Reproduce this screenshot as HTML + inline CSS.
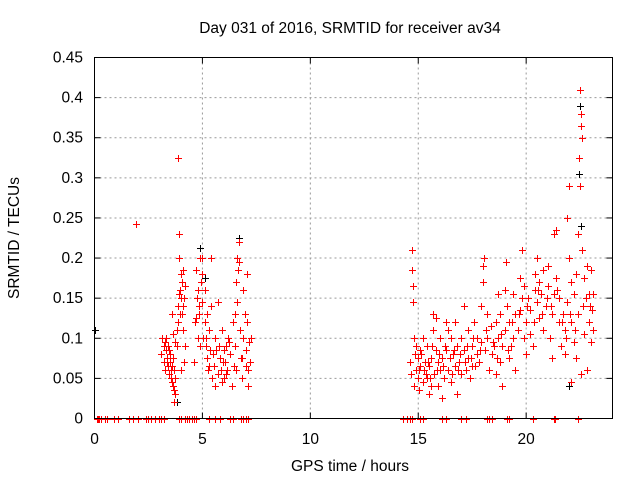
<!DOCTYPE html>
<html><head><meta charset="utf-8"><style>
body{margin:0;background:#fff}
svg text{font-family:"Liberation Sans",sans-serif;font-size:15.5px;fill:#000}
</style></head><body>
<svg id="chart" width="640" height="480" xmlns="http://www.w3.org/2000/svg">
<rect width="640" height="480" fill="#fff"/>
<text x="350" y="33" text-anchor="middle">Day 031 of 2016, SRMTID for receiver av34</text>
<text x="350" y="471" text-anchor="middle">GPS time / hours</text>
<text transform="translate(19,238) rotate(-90)" text-anchor="middle">SRMTID / TECUs</text>
<g id="grid"></g>
<g id="ticks"></g>
<g id="marks"></g>
<rect x="94.5" y="57.5" width="518" height="361" fill="none" stroke="#000"/>
</svg>
<script>
const xTicks=[0,5,10,15,20];
const yTicks=[0,0.05,0.1,0.15,0.2,0.25,0.3,0.35,0.4,0.45];
const yTickLabels=["0","0.05","0.1","0.15","0.2","0.25","0.3","0.35","0.4","0.45"];
const redT=[1.9,3.1,3.15,3.2,3.2,3.25,3.3,3.3,3.35,3.4,3.4,3.45,3.5,3.5,3.55,3.6,3.6,3.65,3.7,3.7,3.75,3.8,3.8,3.85,3.85,3.9,3.9,3.95,3.95,4.0,4.0,4.05,4.05,4.1,4.1,4.15,4.2,4.0,3.9,3.75,3.6,3.65,3.7,3.25,3.35,3.45,3.55,3.65,3.75,3.85,4.15,4.2,4.1,
4.6,4.65,4.7,4.75,4.8,4.8,4.85,4.9,4.9,4.95,5.0,5.0,5.05,5.1,5.1,5.15,5.2,5.2,5.25,5.3,5.35,5.4,5.4,5.45,4.7,4.85,5.0,5.15,5.3,
5.5,5.55,5.6,5.6,5.7,5.7,5.75,5.8,5.85,5.9,5.9,6.0,6.0,6.05,6.1,6.1,6.15,6.2,6.3,6.35,6.4,6.45,6.5,6.5,6.55,6.6,6.6,6.65,6.7,6.7,6.75,6.8,6.85,6.9,6.9,6.95,7.0,7.0,7.05,7.1,7.1,7.15,7.2,7.25,5.65,5.95,6.25,6.55,6.85,7.05,
14.6,14.65,14.7,14.7,14.75,14.75,14.8,14.8,14.85,14.9,14.9,15.0,15.0,15.05,15.1,15.1,15.2,15.2,15.25,15.3,15.4,15.4,15.5,15.5,15.6,15.6,15.7,15.7,15.75,15.8,15.8,15.9,15.9,16.0,16.0,16.1,16.1,16.2,16.3,16.3,16.4,16.4,16.5,16.5,16.6,16.7,16.7,16.8,16.8,16.9,17.0,17.0,17.1,17.1,17.2,17.3,17.3,17.4,17.5,17.5,17.6,17.7,17.7,17.8,17.9,17.9,18.0,18.0,18.05,18.1,18.2,18.2,18.3,18.35,18.4,18.5,18.6,18.6,18.7,18.7,18.8,18.8,18.9,18.9,19.0,19.0,19.05,19.1,19.2,19.2,19.3,19.4,19.4,19.5,19.5,19.6,19.7,19.7,19.8,19.8,19.9,19.9,20.0,20.0,20.1,20.2,20.2,20.3,20.4,20.4,20.5,20.5,20.6,20.6,20.7,20.8,20.8,20.9,21.0,21.0,21.1,21.2,21.2,21.3,21.3,21.4,21.4,21.5,21.5,21.6,21.7,21.8,21.8,21.9,21.9,22.0,22.0,22.1,22.1,22.2,22.2,22.3,22.3,22.4,22.4,22.45,22.5,22.5,22.55,22.55,22.6,22.6,22.65,22.7,22.7,22.8,22.8,22.9,22.9,23.0,23.0,23.05,23.1,23.1,22.55,22.1,
15.05,15.15,15.35,15.45,15.55,15.65,15.85,15.95,16.15,16.25,16.45,16.55,16.65,16.85,16.95,17.15,17.25,17.45,17.55,17.65,17.85,18.15,18.45,18.65,18.85,19.15,19.35,19.65,20.05,20.35,20.55,20.75,20.95,21.15,21.45,21.65,21.85,22.05,22.25,22.75,22.95];
const redV=[0.242,0.08,0.1,0.07,0.09,0.06,0.085,0.1,0.075,0.065,0.09,0.055,0.08,0.07,0.05,0.045,0.065,0.04,0.035,0.06,0.03,0.11,0.09,0.325,0.14,0.2,0.155,0.16,0.13,0.15,0.18,0.17,0.13,0.185,0.11,0.07,0.09,0.06,0.23,0.095,0.13,0.105,0.02,0.095,0.07,0.085,0.06,0.075,0.05,0.12,0.15,0.165,0.14,
0.07,0.12,0.185,0.15,0.16,0.1,0.13,0.2,0.09,0.17,0.2,0.145,0.1,0.12,0.16,0.09,0.13,0.075,0.06,0.11,0.085,0.2,0.14,0.05,0.125,0.14,0.18,0.1,0.065,
0.08,0.065,0.1,0.04,0.145,0.055,0.09,0.075,0.06,0.11,0.045,0.085,0.05,0.07,0.09,0.055,0.06,0.1,0.08,0.04,0.12,0.065,0.09,0.13,0.17,0.2,0.145,0.185,0.195,0.22,0.11,0.075,0.05,0.1,0.16,0.13,0.085,0.065,0.18,0.06,0.04,0.095,0.07,0.1,0.085,0.07,0.095,0.06,0.075,0.12,
0.07,0.055,0.21,0.185,0.165,0.145,0.1,0.04,0.08,0.06,0.09,0.05,0.075,0.035,0.065,0.085,0.045,0.1,0.06,0.07,0.05,0.09,0.03,0.065,0.04,0.075,0.11,0.13,0.055,0.125,0.085,0.07,0.04,0.06,0.1,0.075,0.025,0.05,0.085,0.12,0.06,0.11,0.1,0.045,0.08,0.065,0.12,0.03,0.09,0.07,0.1,0.055,0.085,0.14,0.06,0.11,0.075,0.05,0.09,0.065,0.12,0.08,0.1,0.07,0.095,0.14,0.19,0.17,0.2,0.085,0.1,0.13,0.06,0.115,0.08,0.09,0.12,0.055,0.155,0.1,0.07,0.13,0.04,0.09,0.16,0.11,0.195,0.14,0.075,0.12,0.09,0.155,0.1,0.13,0.06,0.11,0.175,0.135,0.21,0.15,0.1,0.165,0.12,0.08,0.15,0.105,0.135,0.09,0.16,0.18,0.2,0.145,0.17,0.125,0.155,0.185,0.11,0.14,0.165,0.19,0.1,0.075,0.13,0.155,0.23,0.235,0.175,0.12,0.15,0.09,0.13,0.11,0.08,0.145,0.25,0.2,0.29,0.17,0.12,0.155,0.095,0.18,0.075,0.23,0.13,0.325,0.29,0.41,0.38,0.365,0.35,0.21,0.14,0.105,0.175,0.19,0.06,0.155,0.12,0.095,0.185,0.135,0.11,0.155,0.055,0.045,
0.06,0.08,0.055,0.07,0.05,0.09,0.06,0.08,0.065,0.09,0.075,0.055,0.085,0.06,0.08,0.07,0.09,0.075,0.1,0.065,0.085,0.11,0.095,0.075,0.105,0.085,0.12,0.13,0.14,0.12,0.16,0.13,0.15,0.14,0.16,0.12,0.1,0.13,0.11,0.15,0.14];
const blackT=[0,3.85,4.9,6.7,22.5,22.45,22.55,22.0,3.8,5.1];
const blackV=[0.11,0.325,0.213,0.225,0.39,0.305,0.24,0.04,0.02,0.175];
const zeroT=[0.1,0.15,0.2,0.3,0.5,0.6,0.9,1.1,1.6,1.8,2.0,2.4,2.5,2.6,2.8,3.0,3.1,3.2,3.9,4.0,4.2,4.3,4.4,4.5,4.6,4.7,5.3,5.6,5.8,6.3,6.4,6.8,6.9,7.0,7.1,14.3,14.5,14.6,14.7,15.1,15.2,16.1,16.3,17.0,17.2,18.2,18.3,18.4,19.1,19.2,20.3,21.3,21.35,22.4];
const NS="http://www.w3.org/2000/svg";
const X0=94.5,X1=612.5,Y0=418.5,Y1=57.5,XMAX=24,YMAX=0.45;
function sx(t){return X0+(X1-X0)*t/XMAX;}
function sy(v){return Y0-(Y0-Y1)*v/YMAX;}
function mk(tag,attrs,parent){const e=document.createElementNS(NS,tag);for(const k in attrs)e.setAttribute(k,attrs[k]);parent.appendChild(e);return e;}
const grid=document.getElementById('grid'),ticks=document.getElementById('ticks'),marks=document.getElementById('marks');
xTicks.forEach(t=>{const x=sx(t);
 if(t>0){const g=mk('line',{x1:x,x2:x,y1:Y1,y2:Y0,stroke:'#999','stroke-dasharray':'2,3'},grid);
 
 }
 mk('line',{x1:x,x2:x,y1:Y0,y2:Y0-6,stroke:'#000'},ticks);mk('line',{x1:x,x2:x,y1:Y1,y2:Y1+6,stroke:'#000'},ticks);
 const l=mk('text',{x:x,y:444,'text-anchor':'middle'},ticks);l.textContent=String(t);
 
 });
yTicks.forEach((v,i)=>{const y=sy(v);
 if(v>0&&v<YMAX){const g=mk('line',{x1:X0,x2:X1,y1:y,y2:y,stroke:'#999','stroke-dasharray':'2,3'},grid);
 
 }
 mk('line',{x1:X0,x2:X0+6,y1:y,y2:y,stroke:'#000'},ticks);mk('line',{x1:X1,x2:X1-6,y1:y,y2:y,stroke:'#000'},ticks);
 const l=mk('text',{x:83,y:y+5,'text-anchor':'end'},ticks);l.textContent=yTickLabels[i];
 
 });
function plus(t,v,c,name){const x=Math.round(sx(t))+0.5,y=Math.round(sy(v))+0.5;
 const p=mk('path',{d:`M${x-3.5},${y}h7M${x},${y-3.5}v7`,stroke:c,'stroke-width':1,fill:'none'},marks);
 
 }
blackT.forEach((t,i)=>plus(t,blackV[i],'#000','black-point'));
redT.forEach((t,i)=>plus(t,redV[i],'#f00','red-point'));
zeroT.forEach(t=>plus(t,0,'#f00','zero-point'));
</script>
</body></html>
